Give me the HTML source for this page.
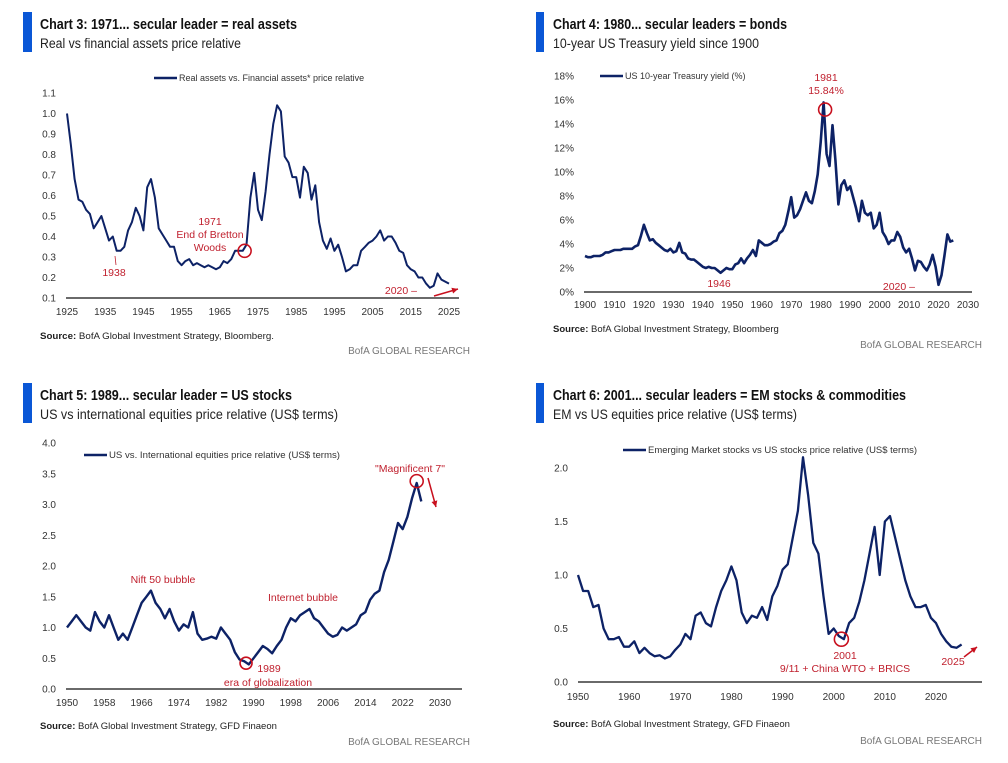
<!DOCTYPE html>
<html><head><meta charset="utf-8">
<style>
html,body{margin:0;padding:0;background:#fff;}
svg{display:block;font-family:"Liberation Sans",sans-serif;}
.t{font-weight:bold;font-size:14.5px;fill:#111;}
.st{font-size:13.5px;fill:#222;}
.tk{font-size:10px;fill:#333;}
.lg{font-size:9px;fill:#333;}
.src{font-size:9.5px;fill:#222;}
.bofa{font-size:10px;fill:#777;}
.an{font-size:10.5px;fill:#c0202e;}
</style></head>
<body>
<svg id="pg" width="1008" height="763" viewBox="0 0 1008 763">
<g>
<rect x="23" y="12" width="9" height="40" fill="#0a57d6"/>
<text class="t" x="40" y="29" textLength="257" lengthAdjust="spacingAndGlyphs">Chart 3: 1971... secular leader = real assets</text>
<text class="st" x="40" y="48" textLength="201" lengthAdjust="spacingAndGlyphs">Real vs financial assets price relative</text>
</g>
<g>
<rect x="536" y="12" width="8" height="40" fill="#0a57d6"/>
<text class="t" x="553" y="29" textLength="234" lengthAdjust="spacingAndGlyphs">Chart 4: 1980... secular leaders = bonds</text>
<text class="st" x="553" y="48" textLength="206" lengthAdjust="spacingAndGlyphs">10-year US Treasury yield since 1900</text>
</g>
<g>
<rect x="23" y="383" width="9" height="40" fill="#0a57d6"/>
<text class="t" x="40" y="400" textLength="252" lengthAdjust="spacingAndGlyphs">Chart 5: 1989... secular leader = US stocks</text>
<text class="st" x="40" y="419" textLength="298" lengthAdjust="spacingAndGlyphs">US vs international equities price relative (US$ terms)</text>
</g>
<g>
<rect x="536" y="383" width="8" height="40" fill="#0a57d6"/>
<text class="t" x="553" y="400" textLength="353" lengthAdjust="spacingAndGlyphs">Chart 6: 2001... secular leaders = EM stocks &amp; commodities</text>
<text class="st" x="553" y="419" textLength="244" lengthAdjust="spacingAndGlyphs">EM vs US equities price relative (US$ terms)</text>
</g>
<g>
<text class="src" x="40" y="339" textLength="234" lengthAdjust="spacingAndGlyphs"><tspan font-weight="bold">Source:</tspan> BofA Global Investment Strategy, Bloomberg.</text>
<text class="bofa" x="470" y="354" text-anchor="end">BofA GLOBAL RESEARCH</text>
<text class="src" x="553" y="332"><tspan font-weight="bold">Source:</tspan> BofA Global Investment Strategy, Bloomberg</text>
<text class="bofa" x="982" y="348" text-anchor="end">BofA GLOBAL RESEARCH</text>
<text class="src" x="40" y="729"><tspan font-weight="bold">Source:</tspan> BofA Global Investment Strategy, GFD Finaeon</text>
<text class="bofa" x="470" y="745" text-anchor="end">BofA GLOBAL RESEARCH</text>
<text class="src" x="553" y="727"><tspan font-weight="bold">Source:</tspan> BofA Global Investment Strategy, GFD Finaeon</text>
<text class="bofa" x="982" y="744" text-anchor="end">BofA GLOBAL RESEARCH</text>
</g>
</svg>
<script>
// ---- Chart 3 data ----
const c3Years = [1925,1926,1927,1928,1929,1930,1931,1932,1933,1934,1935,1936,1937,1938,1939,1940,1941,1942,1943,1944,1945,1946,1947,1948,1949,1950,1951,1952,1953,1954,1955,1956,1957,1958,1959,1960,1961,1962,1963,1964,1965,1966,1967,1968,1969,1970,1971,1972,1973,1974,1975,1976,1977,1978,1979,1980,1981,1982,1983,1984,1985,1986,1987,1988,1989,1990,1991,1992,1993,1994,1995,1996,1997,1998,1999,2000,2001,2002,2003,2004,2005,2006,2007,2008,2009,2010,2011,2012,2013,2014,2015,2016,2017,2018,2019,2020,2021,2022,2023,2024,2025];
const c3Values = [1.0,0.85,0.68,0.58,0.57,0.53,0.51,0.44,0.47,0.50,0.44,0.38,0.40,0.33,0.33,0.35,0.43,0.47,0.54,0.50,0.43,0.64,0.68,0.59,0.44,0.41,0.38,0.35,0.35,0.28,0.26,0.28,0.29,0.26,0.27,0.26,0.25,0.26,0.25,0.24,0.25,0.28,0.27,0.29,0.33,0.33,0.33,0.36,0.59,0.71,0.53,0.48,0.62,0.80,0.95,1.04,1.01,0.79,0.76,0.69,0.69,0.59,0.74,0.71,0.58,0.65,0.47,0.38,0.34,0.39,0.33,0.36,0.30,0.23,0.24,0.26,0.26,0.33,0.35,0.37,0.38,0.40,0.43,0.38,0.40,0.40,0.37,0.33,0.32,0.26,0.24,0.23,0.20,0.20,0.17,0.15,0.16,0.22,0.19,0.18,0.17];
const c3YTicks = ["0.1","0.2","0.3","0.4","0.5","0.6","0.7","0.8","0.9","1.0","1.1"];
const c3XTicks = [1925,1935,1945,1955,1965,1975,1985,1995,2005,2015,2025];
// ---- Chart 4 data ----
const c4Years = [1900,1901,1902,1903,1904,1905,1906,1907,1908,1909,1910,1911,1912,1913,1914,1915,1916,1917,1918,1919,1920,1921,1922,1923,1924,1925,1926,1927,1928,1929,1930,1931,1932,1933,1934,1935,1936,1937,1938,1939,1940,1941,1942,1943,1944,1945,1946,1947,1948,1949,1950,1951,1952,1953,1954,1955,1956,1957,1958,1959,1960,1961,1962,1963,1964,1965,1966,1967,1968,1969,1970,1971,1972,1973,1974,1975,1976,1977,1978,1979,1980,1981,1982,1983,1984,1985,1986,1987,1988,1989,1990,1991,1992,1993,1994,1995,1996,1997,1998,1999,2000,2001,2002,2003,2004,2005,2006,2007,2008,2009,2010,2011,2012,2013,2014,2015,2016,2017,2018,2019,2020,2021,2022,2023,2024,2025];
const c4Values = [3.0,2.9,2.9,3.0,3.0,3.0,3.1,3.3,3.3,3.4,3.5,3.5,3.5,3.6,3.6,3.6,3.6,3.8,3.9,4.7,5.6,4.9,4.3,4.4,4.1,3.9,3.7,3.5,3.4,3.6,3.3,3.4,4.1,3.3,3.2,2.8,2.7,2.7,2.5,2.3,2.1,2.0,2.1,2.0,2.0,1.8,1.6,1.8,2.0,1.9,1.9,2.3,2.4,2.8,2.4,2.8,3.1,3.5,3.0,4.3,4.1,3.9,3.9,4.0,4.2,4.3,4.9,5.1,5.6,6.7,7.9,6.2,6.4,6.9,7.6,8.3,7.6,7.4,8.4,9.8,12.5,15.8,11.5,10.5,13.9,11.0,7.3,8.9,9.3,8.5,8.8,7.9,7.0,5.9,7.6,6.6,6.4,6.6,5.3,5.6,6.6,5.0,4.6,4.0,4.3,4.3,5.0,4.6,3.7,3.3,3.6,2.8,1.8,2.6,2.5,2.1,1.8,2.3,3.1,2.1,0.6,1.4,3.0,4.8,4.2,4.3];
const c4YTicks = ["0%","2%","4%","6%","8%","10%","12%","14%","16%","18%"];
const c4XTicks = [1900,1910,1920,1930,1940,1950,1960,1970,1980,1990,2000,2010,2020,2030];
// ---- Chart 5 data ----
const c5Years = [1950,1951,1952,1953,1954,1955,1956,1957,1958,1959,1960,1961,1962,1963,1964,1965,1966,1967,1968,1969,1970,1971,1972,1973,1974,1975,1976,1977,1978,1979,1980,1981,1982,1983,1984,1985,1986,1987,1988,1989,1990,1991,1992,1993,1994,1995,1996,1997,1998,1999,2000,2001,2002,2003,2004,2005,2006,2007,2008,2009,2010,2011,2012,2013,2014,2015,2016,2017,2018,2019,2020,2021,2022,2023,2024,2025,2026];
const c5Values = [1.0,1.1,1.2,1.1,1.0,0.95,1.25,1.1,1.0,1.2,1.0,0.8,0.9,0.8,1.0,1.2,1.4,1.5,1.6,1.4,1.3,1.15,1.3,1.1,0.95,1.05,1.0,1.25,0.9,0.8,0.82,0.85,0.82,1.0,0.9,0.8,0.6,0.48,0.45,0.4,0.5,0.6,0.7,0.65,0.58,0.7,0.8,1.0,1.15,1.1,1.2,1.25,1.3,1.15,1.1,1.0,0.9,0.85,0.88,1.0,0.95,1.0,1.05,1.2,1.25,1.45,1.55,1.6,1.9,2.1,2.4,2.7,2.6,2.8,3.1,3.35,3.05];
const c5YTicks = ["0.0","0.5","1.0","1.5","2.0","2.5","3.0","3.5","4.0"];
const c5XTicks = [1950,1958,1966,1974,1982,1990,1998,2006,2014,2022,2030];
// ---- Chart 6 data ----
const c6Years = [1950,1951,1952,1953,1954,1955,1956,1957,1958,1959,1960,1961,1962,1963,1964,1965,1966,1967,1968,1969,1970,1971,1972,1973,1974,1975,1976,1977,1978,1979,1980,1981,1982,1983,1984,1985,1986,1987,1988,1989,1990,1991,1992,1993,1994,1995,1996,1997,1998,1999,2000,2001,2002,2003,2004,2005,2006,2007,2008,2009,2010,2011,2012,2013,2014,2015,2016,2017,2018,2019,2020,2021,2022,2023,2024,2025];
const c6Values = [1.0,0.85,0.85,0.7,0.72,0.5,0.4,0.4,0.42,0.33,0.33,0.38,0.27,0.32,0.27,0.24,0.25,0.22,0.24,0.3,0.35,0.45,0.4,0.62,0.65,0.55,0.52,0.7,0.85,0.95,1.08,0.95,0.65,0.55,0.62,0.6,0.7,0.58,0.8,0.9,1.05,1.1,1.35,1.6,2.1,1.75,1.3,1.2,0.8,0.45,0.5,0.43,0.4,0.55,0.6,0.75,0.95,1.2,1.45,1.0,1.5,1.55,1.35,1.15,0.95,0.8,0.7,0.7,0.72,0.6,0.55,0.45,0.38,0.33,0.32,0.35];
const c6YTicks = ["0.0","0.5","1.0","1.5","2.0"];
const c6XTicks = [1950,1960,1970,1980,1990,2000,2010,2020];

const NS="http://www.w3.org/2000/svg";
const svg=document.getElementById('pg');
function mk(tag,attrs,parent,txt){const e=document.createElementNS(NS,tag);for(const k in attrs)e.setAttribute(k,attrs[k]);if(txt!==undefined)e.textContent=txt;(parent||svg).appendChild(e);return e;}

function drawChart(cfg,years,values,yTicks,xTicks){
  const g=mk('g',{});
  
  
  const xs=v=>cfg.x0+(v-cfg.xMin)/(cfg.xMax-cfg.xMin)*(cfg.x1-cfg.x0);
  const ys=v=>cfg.yBase+(v-cfg.yMin)/(cfg.yMax-cfg.yMin)*(cfg.yTop-cfg.yBase);
  yTicks.forEach(t=>{
    const v=parseFloat(t);
    const e=mk('text',{class:'tk',x:cfg.yLabX,y:ys(v)+3.5,'text-anchor':'end'},g,t);
    
    
  });
  xTicks.forEach(t=>{
    const e=mk('text',{class:'tk',x:xs(t),y:cfg.xLabY,'text-anchor':'middle'},g,String(t));
    
    
  });
  const ax=mk('line',{x1:cfg.axL,x2:cfg.axR,y1:cfg.yBase,y2:cfg.yBase,stroke:'#111','stroke-width':1.3},g);
  
  
  const d=years.map((yr,i)=>(i?'L':'M')+xs(yr).toFixed(1)+','+ys(values[i]).toFixed(1)).join('');
  const p=mk('path',{d:d,fill:'none',stroke:'#0d2266','stroke-width':cfg.sw||2,'stroke-linejoin':'round'},g);
  
  
  const lg=mk('g',{},g);
  
  
  mk('line',{x1:cfg.lgX,x2:cfg.lgX+23,y1:cfg.lgY,y2:cfg.lgY,stroke:'#0d2266','stroke-width':2.5},lg);
  const la={class:'lg',x:cfg.lgX+25,y:cfg.lgY+3};
  if(cfg.lgLen){la.textLength=cfg.lgLen;la.lengthAdjust='spacingAndGlyphs';}
  mk('text',la,lg,cfg.lgText);
  return {g,xs,ys};
}
function ann(g,x,y,txt,anchor,name){
  const e=mk('text',{class:'an',x:x,y:y,'text-anchor':anchor||'middle'},g,txt);
  
  
}
function circ(g,cx,cy,r){
  const e=mk('circle',{cx:cx,cy:cy,r:r,fill:'none',stroke:'#c8101e','stroke-width':1.6},g);
  
  
}
function arrow(g,x1,y1,x2,y2){
  const a=mk('g',{},g);
  
  
  mk('line',{x1:x1,y1:y1,x2:x2,y2:y2,stroke:'#c8101e','stroke-width':1.5},a);
  const ang=Math.atan2(y2-y1,x2-x1),L=6,W=3;
  const bx=x2-L*Math.cos(ang),by=y2-L*Math.sin(ang);
  mk('polygon',{points:`${x2},${y2} ${bx-W*Math.sin(ang)},${by+W*Math.cos(ang)} ${bx+W*Math.sin(ang)},${by-W*Math.cos(ang)}`,fill:'#c8101e'},a);
}

// Chart 3
let c=drawChart({name:'chart3',x0:67,x1:449,xMin:1925,xMax:2025,yBase:298,yTop:93,yMin:0.1,yMax:1.1,yLabX:56,xLabY:315,axL:66,axR:459,lgX:154,lgY:78,lgText:'Real assets vs. Financial assets* price relative'},c3Years,c3Values,c3YTicks,c3XTicks);
ann(c.g,114,276,'1938','middle','annotation-1938');
mk('line',{x1:116,y1:265,x2:115,y2:256,stroke:'#c0202e','stroke-width':0.8},c.g);
ann(c.g,210,225,'1971','middle','annotation-1971');
ann(c.g,210,238,'End of Bretton','middle','annotation-bretton');
ann(c.g,210,251,'Woods','middle','annotation-woods');
circ(c.g,c.xs(1971.5),c.ys(0.33),6.5);
ann(c.g,417,294,'2020 \u2013','end','annotation-2020');
arrow(c.g,434,296,458,289);

// Chart 4
c=drawChart({name:'chart4',x0:585,x1:968,xMin:1900,xMax:2030,yBase:292,yTop:76,yMin:0,yMax:18,yLabX:574,xLabY:308,axL:584,axR:972,lgX:600,lgY:76,lgText:'US 10-year Treasury yield (%)',sw:2.6},c4Years,c4Values,c4YTicks,c4XTicks);
ann(c.g,826,81,'1981','middle','annotation-1981');
ann(c.g,826,94,'15.84%','middle','annotation-peak');
circ(c.g,c.xs(1981.5),c.ys(15.2),6.5);
ann(c.g,719,287,'1946','middle','annotation-1946');
ann(c.g,915,290,'2020 \u2013','end','annotation-2020');

// Chart 5
c=drawChart({name:'chart5',x0:67,x1:440,xMin:1950,xMax:2030,yBase:689,yTop:443,yMin:0,yMax:4,yLabX:56,xLabY:706,axL:66,axR:462,lgX:84,lgY:455,lgLen:231,lgText:'US vs. International equities price relative (US$ terms)',sw:2.4},c5Years,c5Values,c5YTicks,c5XTicks);
ann(c.g,163,583,'Nift 50 bubble','middle','annotation-nifty50');
ann(c.g,303,601,'Internet bubble','middle','annotation-internet');
ann(c.g,269,672,'1989','middle','annotation-1989');
ann(c.g,268,686,'era of globalization','middle','annotation-globalization');
circ(c.g,c.xs(1988.4),c.ys(0.42),6);
ann(c.g,410,472,'"Magnificent 7"','middle','annotation-mag7');
circ(c.g,c.xs(2025),c.ys(3.38),6.5);
arrow(c.g,428,478,436,507);

// Chart 6
c=drawChart({name:'chart6',x0:578,x1:936,xMin:1950,xMax:2020,yBase:682,yTop:468,yMin:0,yMax:2,yLabX:568,xLabY:700,axL:578,axR:982,lgX:623,lgY:450,lgLen:269,lgText:'Emerging Market stocks vs US stocks price relative (US$ terms)',sw:2.3},c6Years,c6Values,c6YTicks,c6XTicks);
circ(c.g,c.xs(2001.5),c.ys(0.4),7);
ann(c.g,845,659,'2001','middle','annotation-2001');
ann(c.g,845,672,'9/11 + China WTO + BRICS','middle','annotation-brics');
ann(c.g,953,665,'2025','middle','annotation-2025');
arrow(c.g,964,657,977,647);
</script>
</body></html>
